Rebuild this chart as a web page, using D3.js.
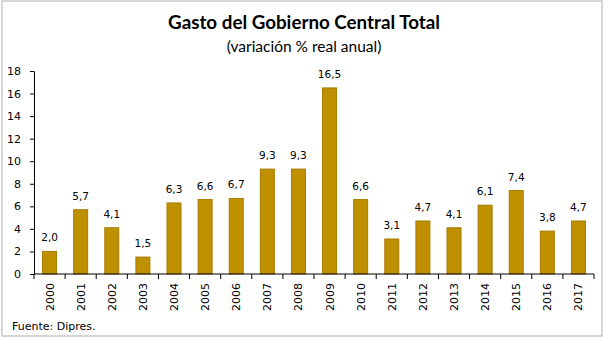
<!DOCTYPE html>
<html><head><meta charset="utf-8">
<script src="https://cdn.jsdelivr.net/npm/d3@7"></script>
<style>body{margin:0;background:#fff}svg{display:block}</style>
</head><body>
<script>
const years = ["2000","2001","2002","2003","2004","2005","2006","2007","2008","2009","2010","2011","2012","2013","2014","2015","2016","2017"];
const values = [2.0,5.7,4.1,1.5,6.3,6.6,6.7,9.3,9.3,16.5,6.6,3.1,4.7,4.1,6.1,7.4,3.8,4.7];
const yTicks = [0,2,4,6,8,10,12,14,16,18];
const title = "Gasto del Gobierno Central Total";
const subtitle = "(variación % real anual)";
const source = "Fuente: Dipres.";

const W = 608, H = 340;
const svg = d3.select("body").append("svg").attr("width", W).attr("height", H);
svg.append("rect").attr("x",2).attr("y",1).attr("width",600).attr("height",335)
  .attr("fill","#fff").attr("stroke","#c9c9c9").attr("stroke-width",1.5);

const x = d3.scaleBand().domain(years).range([34,594]).paddingInner(0.55).paddingOuter(0.275);
const y = d3.scaleLinear().domain([0,18]).range([274,71]);

svg.append("text").attr("x",304).attr("y",29).attr("text-anchor","middle")
  .attr("font-family","Lato, 'Open Sans', sans-serif").attr("font-weight","bold").attr("font-size",18.8)
  .attr("fill","#000").text(title);
svg.append("text").attr("x",304).attr("y",52).attr("text-anchor","middle")
  .attr("font-family","Lato, 'Open Sans', sans-serif").attr("font-size",15.5)
  .attr("fill","#000").text(subtitle);

const font = "'DejaVu Sans', Verdana, sans-serif";

svg.selectAll("rect.bar").data(values).join("rect").attr("class","bar")
  .attr("x",(d,i)=>x(years[i])).attr("width",x.bandwidth())
  .attr("y",d=>y(d)).attr("height",d=>y(0)-y(d))
  .attr("fill","#BF9000").attr("stroke","#A67C00").attr("stroke-width",1);

svg.selectAll("text.val").data(values).join("text").attr("class","val")
  .attr("x",(d,i)=>x(years[i])+x.bandwidth()/2).attr("y",d=>y(d)-10)
  .attr("text-anchor","middle").attr("font-family",font).attr("font-size",10.5)
  .attr("fill","#000").text(d=>d.toFixed(1).replace(".",","));

const yAxis = svg.append("g").attr("transform","translate(34,0)")
  .call(d3.axisLeft(y).tickValues(yTicks).tickSize(4).tickPadding(9).tickSizeOuter(0));
yAxis.select(".domain").attr("stroke","#000");
yAxis.selectAll("text").attr("font-family",font).attr("font-size",11).attr("fill","#000");

const xg = svg.append("g").attr("transform","translate(0,274)");
xg.append("line").attr("x1",34).attr("x2",594).attr("y1",0).attr("y2",0).attr("stroke","#000");
const edges = d3.range(years.length+1).map(i=>x.range()[0] + i*x.step());
xg.selectAll("line.t").data(edges).join("line").attr("class","t")
  .attr("x1",d=>d).attr("x2",d=>d).attr("y1",0).attr("y2",5).attr("stroke","#000");
xg.selectAll("text.yr").data(years).join("text").attr("class","yr")
  .attr("transform",d=>`translate(${x(d)+x.bandwidth()/2+4},9) rotate(-90)`)
  .attr("text-anchor","end").attr("font-family",font).attr("font-size",11).attr("fill","#000").text(d=>d);

svg.append("text").attr("x",12).attr("y",330).attr("font-family",font).attr("font-size",11)
  .attr("fill","#000").text(source);
</script>
</body></html>
